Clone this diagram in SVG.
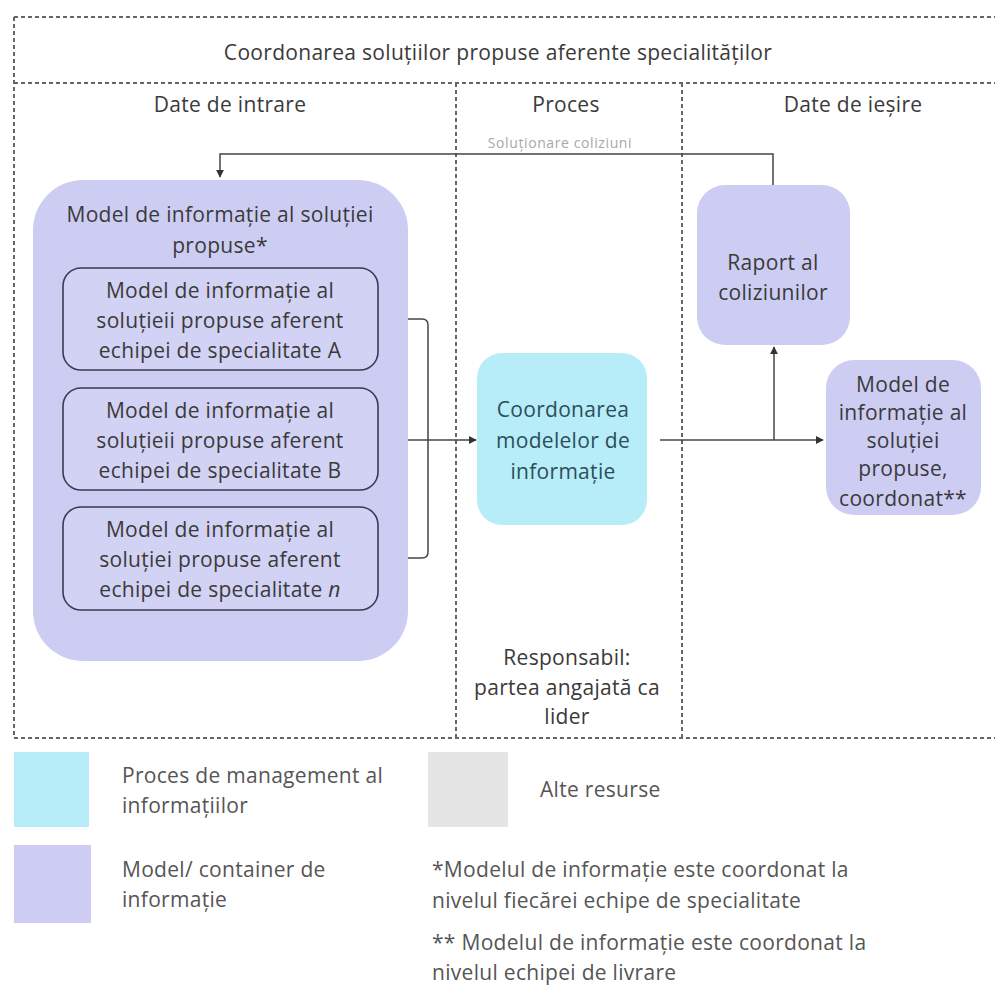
<svg xmlns="http://www.w3.org/2000/svg" width="995" height="991" viewBox="0 0 995 991">
  <defs>
    <style>
      text { font-family: "Open Sans", "Noto Sans", "Liberation Sans", sans-serif; font-size: 21px; fill: #3a3a3a; letter-spacing: 0.3px; }
      .c { text-anchor: middle; }
      .frame { fill: none; stroke: #666666; stroke-width: 2; stroke-dasharray: 4 3; }
      .model { fill: #cdcdf3; }
      .sub { fill: #d2d2f5; stroke: #3a3a52; stroke-width: 1.6; }
      .proc { fill: #b6edf8; }
      .proc-t { fill: #2d4e58; }
      .wire { fill: none; stroke: #444; stroke-width: 1.5; }
      .lbl { font-size: 14px; fill: #a8a8a8; letter-spacing: 0.6px; }
      .leg { fill: #555; }
    </style>
    <marker id="arr" viewBox="0 0 10 10" refX="9" refY="5" markerWidth="8" markerHeight="8" markerUnits="userSpaceOnUse" orient="auto">
      <path d="M0,0 L10,5 L0,10 z" fill="#333"/>
    </marker>
  </defs>
  <rect width="995" height="991" fill="#ffffff"/>

  <!-- swimlane frame -->
  <g id="frame">
    <path class="frame" d="M14,17 H995 M14,17 V738 M14,83 H995 M14,738 H995 M456,83 V738 M682,83 V738"/>
    <text class="c" x="498" y="60">Coordonarea soluțiilor propuse aferente specialităților</text>
    <text class="c" x="230" y="112">Date de intrare</text>
    <text class="c" x="566" y="112">Proces</text>
    <text class="c" x="853" y="112">Date de ieșire</text>
  </g>

  <!-- connectors -->
  <g id="connectors">
    <path class="wire" d="M773,185 V154 H220 V177" marker-end="url(#arr)"/>
    <text class="lbl c" x="560" y="148">Soluționare coliziuni</text>
    <path class="wire" d="M378,319 H422 Q428,319 428,325 V552 Q428,558 422,558 H378"/>
    <path class="wire" d="M378,440 H476" marker-end="url(#arr)"/>
    <path class="wire" d="M660,440 H823" marker-end="url(#arr)"/>
    <path class="wire" d="M774,440 V347" marker-end="url(#arr)"/>
  </g>

  <!-- input container -->
  <g id="input-model">
    <rect class="model" x="33" y="180" width="375" height="481" rx="50"/>
    <text class="c" x="220" y="222">Model de informație al soluției</text>
    <text class="c" x="220" y="253">propuse*</text>
  </g>

  <g id="model-a">
    <rect class="sub" x="63" y="268" width="315" height="102" rx="18"/>
    <text class="c" x="220" y="298">Model de informație al</text>
    <text class="c" x="220" y="328">soluțieii propuse aferent</text>
    <text class="c" x="220" y="358">echipei de specialitate A</text>
  </g>

  <g id="model-b">
    <rect class="sub" x="63" y="388" width="315" height="102" rx="18"/>
    <text class="c" x="220" y="418">Model de informație al</text>
    <text class="c" x="220" y="448">soluțieii propuse aferent</text>
    <text class="c" x="220" y="478">echipei de specialitate B</text>
  </g>

  <g id="model-n">
    <rect class="sub" x="63" y="507" width="315" height="103" rx="18"/>
    <text class="c" x="220" y="537">Model de informație al</text>
    <text class="c" x="220" y="567">soluției propuse aferent</text>
    <text class="c" x="220" y="597">echipei de specialitate <tspan font-style="italic">n</tspan></text>
  </g>

  <!-- process -->
  <g id="coordination">
    <rect class="proc" x="477" y="353" width="170" height="172" rx="25"/>
    <text class="c proc-t" x="563" y="417">Coordonarea</text>
    <text class="c proc-t" x="563" y="448">modelelor de</text>
    <text class="c proc-t" x="563" y="479">informație</text>
  </g>

  <g id="responsible">
    <text class="c" x="567" y="665">Responsabil:</text>
    <text class="c" x="567" y="695">partea angajată ca</text>
    <text class="c" x="567" y="724">lider</text>
  </g>

  <!-- outputs -->
  <g id="clash-report">
    <rect class="model" x="697" y="185" width="153" height="160" rx="28"/>
    <text class="c" x="773" y="270">Raport al</text>
    <text class="c" x="773" y="300">coliziunilor</text>
  </g>

  <g id="coordinated-model">
    <rect class="model" x="826" y="360" width="155" height="155" rx="28"/>
    <text class="c" x="903" y="392">Model de</text>
    <text class="c" x="903" y="420">informație al</text>
    <text class="c" x="903" y="448">soluției</text>
    <text class="c" x="903" y="476">propuse,</text>
    <text class="c" x="903" y="506">coordonat**</text>
  </g>

  <!-- legend -->
  <g id="legend">
    <rect class="proc" x="14" y="752" width="75" height="75"/>
    <text class="leg" x="122" y="783">Proces de management al</text>
    <text class="leg" x="122" y="813">informațiilor</text>
    <rect x="428" y="752" width="80" height="75" fill="#e5e5e5"/>
    <text class="leg" x="540" y="797">Alte resurse</text>
    <rect class="model" x="14" y="845" width="77" height="78"/>
    <text class="leg" x="122" y="877">Model/ container de</text>
    <text class="leg" x="122" y="907">informație</text>
    <text class="leg" x="432" y="877">*Modelul de informație este coordonat la</text>
    <text class="leg" x="432" y="908">nivelul fiecărei echipe de specialitate</text>
    <text class="leg" x="432" y="950">** Modelul de informație este coordonat la</text>
    <text class="leg" x="432" y="980">nivelul echipei de livrare</text>
  </g>
</svg>
